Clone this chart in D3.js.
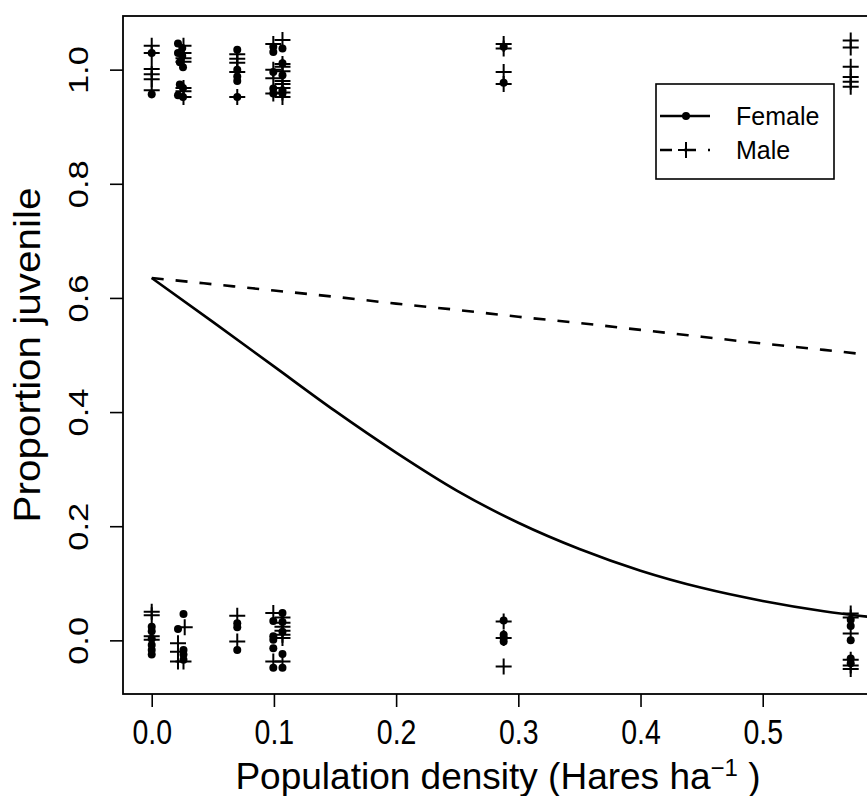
<!DOCTYPE html>
<html>
<head>
<meta charset="utf-8">
<script src="https://cdn.jsdelivr.net/npm/d3@7/dist/d3.min.js"></script>
<style>
  body { margin: 0; background: #fff; }
  text { font-family: "Liberation Sans", Arial, sans-serif; fill: #000; }
</style>
</head>
<body>
<div id="chart"></div>
<script>
// observed points (jittered 0/1 outcome)
var femaleX = [0, 0,
  0.0215, 0.025, 0.0215, 0.025, 0.023, 0.0256, 0.023, 0.0256, 0.0215, 0.0256,
  0.070, 0.070, 0.070, 0.070, 0.070,
  0.0995, 0.0995, 0.0995, 0.0995, 0.0995,
  0.107, 0.107, 0.107, 0.107, 0.107,
  0.288, 0.288,
  0, 0, 0, 0, 0, 0,
  0.026, 0.0215, 0.026, 0.026, 0.026,
  0.070, 0.070, 0.070,
  0.0995, 0.0995, 0.0995, 0.0995, 0.0995,
  0.107, 0.107, 0.107, 0.107, 0.107,
  0.288, 0.288, 0.288, 0.288,
  0.572, 0.572, 0.572, 0.572, 0.572];
var femaleY = [1.029, 0.957,
  1.046, 1.038, 1.029, 1.024, 1.013, 1.004, 0.974, 0.968, 0.955, 0.952,
  1.035, 1.0, 0.988, 0.980, 0.952,
  1.040, 1.031, 0.996, 0.967, 0.958,
  1.037, 1.011, 0.990, 0.964, 0.958,
  1.040, 0.977,
  0.024, 0.016, 0.003, -0.008, -0.017, -0.025,
  0.046, 0.020, -0.017, -0.025, -0.034,
  0.030, 0.023, -0.017,
  0.034, 0.007, 0.001, -0.014, -0.048,
  0.048, 0.032, 0.015, -0.024, -0.048,
  0.035, 0.010, 0.004, -0.002,
  0.036, 0.025, 0.0, -0.032, -0.040];

var maleX = [0, 0, 0, 0, 0, 0,
  0.026, 0.026, 0.026, 0.026, 0.026, 0.026, 0.026,
  0.070, 0.070, 0.070, 0.070, 0.070,
  0.0995, 0.0995, 0.0995, 0.0995,
  0.107, 0.107, 0.107, 0.107, 0.107, 0.107, 0.107, 0.107, 0.107,
  0.288, 0.288, 0.288, 0.288,
  0.572, 0.572, 0.572, 0.572, 0.572, 0.572,
  0, 0, 0, 0,
  0.027, 0.0215, 0.0215, 0.0215, 0.026,
  0.070, 0.070,
  0.0995, 0.0995,
  0.107, 0.107, 0.107, 0.107, 0.107, 0.107, 0.107,
  0.288, 0.288, 0.288,
  0.572, 0.572, 0.572, 0.572, 0.572, 0.572];
var maleY = [1.042, 1.029, 1.001, 0.992, 0.983, 0.964,
  1.042, 1.029, 1.020, 1.014, 0.968, 0.962, 0.952,
  1.027, 1.019, 1.012, 0.996, 0.952,
  1.045, 1.000, 0.985, 0.958,
  1.052, 1.010, 1.005, 0.997, 0.980, 0.975, 0.968, 0.960, 0.952,
  1.045, 1.037, 0.996, 0.975,
  1.051, 1.039, 1.005, 0.987, 0.979, 0.970,
  0.050, 0.044, 0.007, 0.001,
  0.023, -0.005, -0.020, -0.037, -0.037,
  0.043, -0.002,
  0.048, -0.037,
  0.040, 0.031, 0.024, 0.017, 0.010, 0.004, -0.037,
  0.033, 0.004, -0.046,
  0.047, 0.040, 0.012, -0.034, -0.044, -0.050];

// fitted curves
var fitX      = [0, 0.05, 0.1, 0.15, 0.2, 0.25, 0.3, 0.35, 0.4, 0.45, 0.5, 0.55, 0.6];
var femaleFit = [0.635, 0.558, 0.480, 0.402, 0.329, 0.262, 0.206, 0.160, 0.122, 0.092, 0.069, 0.051, 0.038];
var maleFit   = [0.635, 0.624, 0.613, 0.602, 0.590, 0.579, 0.567, 0.556, 0.544, 0.532, 0.520, 0.509, 0.497];

var xTicks = [0, 0.1, 0.2, 0.3, 0.4, 0.5];
var yTicks = [0, 0.2, 0.4, 0.6, 0.8, 1.0];
var legendLabels = ["Female", "Male"];

var width = 867, height = 796;
var pLeft = 123, pTop = 16, pBottom = 694, pRight = 909;

var svg = d3.select("#chart").append("svg")
    .attr("width", width)
    .attr("height", height);

svg.append("rect").attr("width", width).attr("height", height).attr("fill", "#fff");

var x = d3.scaleLinear().domain([-0.0235, 0.6197]).range([pLeft, pRight]);
var y = d3.scaleLinear().domain([-0.094, 1.094]).range([pBottom, pTop]);

// axes
var xAxis = svg.append("g")
    .attr("transform", "translate(0," + pBottom + ")")
    .call(d3.axisBottom(x).tickValues(xTicks).tickFormat(d3.format(".1f")).tickSize(13).tickSizeOuter(0));
xAxis.select(".domain").remove();
xAxis.selectAll("line").attr("stroke", "#000").attr("stroke-width", 1.6);
xAxis.selectAll("text")
    .attr("y", 0).attr("dy", null)
    .attr("transform", "translate(0,50) scale(0.95,1.15)")
    .style("font-size", "30px")
    .style("font-family", "Liberation Sans, Arial, sans-serif");

var yAxis = svg.append("g")
    .attr("transform", "translate(" + pLeft + ",0)")
    .call(d3.axisLeft(y).tickValues(yTicks).tickFormat(d3.format(".1f")).tickSize(13).tickSizeOuter(0));
yAxis.select(".domain").remove();
yAxis.selectAll("line").attr("stroke", "#000").attr("stroke-width", 1.6);
yAxis.selectAll("text")
    .attr("x", 0).attr("dy", null)
    .attr("transform", "translate(-35,0) rotate(-90) scale(1.15,0.95)")
    .attr("text-anchor", "middle")
    .style("font-size", "30px")
    .style("font-family", "Liberation Sans, Arial, sans-serif");

// box
svg.append("rect")
    .attr("x", pLeft).attr("y", pTop)
    .attr("width", pRight - pLeft).attr("height", pBottom - pTop)
    .attr("fill", "none").attr("stroke", "#000").attr("stroke-width", 1.8);

// titles
svg.append("text")
    .attr("transform", "translate(40," + (pTop + pBottom) / 2 + ") rotate(-90)")
    .attr("text-anchor", "middle")
    .style("font-size", "36px")
    .attr("textLength", 335)
    .attr("lengthAdjust", "spacingAndGlyphs")
    .text("Proportion juvenile");

var xt = svg.append("text")
    .attr("x", 498).attr("y", 789)
    .attr("text-anchor", "middle")
    .style("font-size", "37px");
xt.append("tspan").text("Population density (Hares ha");
xt.append("tspan").attr("dy", -13).style("font-size", "24px").text("\u22121");
xt.append("tspan").attr("dy", 13).text(" )");

// curves
var line = d3.line()
    .x(function(d, i) { return x(fitX[i]); })
    .y(function(d) { return y(d); })
    .curve(d3.curveMonotoneX);

var plot = svg.append("g");

plot.append("path")
    .attr("d", line(femaleFit))
    .attr("fill", "none").attr("stroke", "#000").attr("stroke-width", 2.6);

plot.append("path")
    .attr("d", line(maleFit))
    .attr("fill", "none").attr("stroke", "#000").attr("stroke-width", 2.6)
    .attr("stroke-dasharray", "12,12");

// points
plot.selectAll(".fem")
    .data(femaleY)
    .enter().append("circle")
    .attr("class", "fem")
    .attr("cx", function(d, i) { return x(femaleX[i]); })
    .attr("cy", function(d) { return y(d); })
    .attr("r", 4)
    .attr("fill", "#000");

plot.selectAll(".mal")
    .data(maleY)
    .enter().append("path")
    .attr("class", "mal")
    .attr("transform", function(d, i) { return "translate(" + x(maleX[i]) + "," + y(d) + ")"; })
    .attr("d", "M-8,0H8M0,-8V8")
    .attr("stroke", "#000").attr("stroke-width", 2)
    .attr("fill", "none");

// legend
var lg = svg.append("g").attr("transform", "translate(656,84)");
lg.append("rect")
    .attr("width", 178).attr("height", 95)
    .attr("fill", "#fff").attr("stroke", "#000").attr("stroke-width", 1.6);

var rows = lg.selectAll(".row")
    .data(legendLabels)
    .enter().append("g")
    .attr("class", "row")
    .attr("transform", function(d, i) { return "translate(0," + (32 + i * 34) + ")"; });

rows.append("line")
    .attr("x1", 4).attr("x2", 54)
    .attr("stroke", "#000").attr("stroke-width", 2.6)
    .attr("stroke-dasharray", function(d, i) { return i ? "12,12" : null; });

rows.filter(function(d, i) { return i === 0; })
    .append("circle").attr("cx", 30).attr("r", 4).attr("fill", "#000");
rows.filter(function(d, i) { return i === 1; })
    .append("path").attr("transform", "translate(30,0)")
    .attr("d", "M-8,0H8M0,-8V8").attr("stroke", "#000").attr("stroke-width", 2);

rows.append("text")
    .attr("x", 80).attr("y", 9)
    .style("font-size", "25px")
    .text(function(d) { return d; });
</script>
</body>
</html>
